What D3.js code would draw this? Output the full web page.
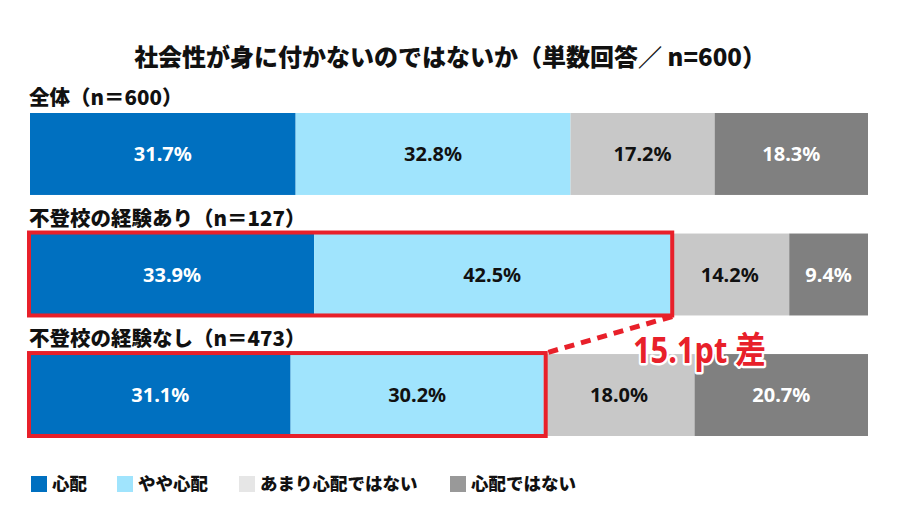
<!DOCTYPE html>
<html><head><meta charset="utf-8">
<script src="https://cdn.jsdelivr.net/npm/d3@7"></script>
<style>
body{margin:0;background:#fff;}
text{font-family:"Noto Sans CJK JP","Noto Sans",sans-serif;font-weight:900;}
.num{font-family:"Noto Sans","Noto Sans CJK JP",sans-serif;font-weight:700;}
</style></head>
<body>
<svg id="c" width="900" height="520"></svg>
<script>
const title = "社会性が身に付かないのではないか（単数回答／ n=600）";
const groups = ["全体（n＝600）", "不登校の経験あり（n＝127）", "不登校の経験なし（n＝473）"];
const seriesNames = ["心配", "やや心配", "あまり心配ではない", "心配ではない"];
const vShinpai = [31.7, 33.9, 31.1];
const vYaya = [32.8, 42.5, 30.2];
const vAmari = [17.2, 14.2, 18.0];
const vNai = [18.3, 9.4, 20.7];
const barColors = ["#0070c0", "#a0e4fd", "#c8c8c8", "#808080"];
const legendColors = ["#0070c0", "#a0e4fd", "#e6e6e6", "#999999"];
const labelColors = ["#ffffff", "#111111", "#111111", "#ffffff"];
const annotation = "15.1pt 差";

const series = [vShinpai, vYaya, vAmari, vNai];
const svg = d3.select("#c");
const x = d3.scaleLinear().domain([0, 100]).range([30, 868]);
const y = d3.scaleBand().domain(groups).range([113, 436]).paddingInner(0.32).paddingOuter(0);

svg.append("text").attr("x", 450).attr("y", 66).attr("text-anchor", "middle")
  .attr("font-size", 24).attr("fill", "#111").text(title);

groups.forEach((g, gi) => {
  svg.append("text").attr("x", 29).attr("y", y(g) - 8).attr("font-size", 20.5)
    .attr("fill", "#111").text(g);
  let cum = 0;
  series.forEach((s, si) => {
    const v = s[gi];
    const x0 = x(cum), x1 = x(cum + v);
    svg.append("rect").attr("x", x0).attr("y", y(g)).attr("width", x1 - x0)
      .attr("height", y.bandwidth()).attr("fill", barColors[si]);
    svg.append("text").attr("class", "num").attr("x", (x0 + x1) / 2)
      .attr("y", y(g) + y.bandwidth() / 2 + 7).attr("text-anchor", "middle")
      .attr("font-size", 20).attr("fill", labelColors[si]).text(v.toFixed(1) + "%");
    cum += v;
  });
});

// highlight boxes around 心配 + やや心配
const hl = [1, 2];
hl.forEach(gi => {
  const g = groups[gi];
  const w = x(vShinpai[gi] + vYaya[gi]);
  svg.append("rect").attr("x", x(0) - 1).attr("y", y(g) - 1)
    .attr("width", w - x(0) + 3).attr("height", y.bandwidth() + 1)
    .attr("fill", "none").attr("stroke", "#e8202a").attr("stroke-width", 4);
});
const xa = x(vShinpai[1] + vYaya[1]) + 2, ya = y(groups[1]) + y.bandwidth() + 1;
const xb = x(vShinpai[2] + vYaya[2]) + 2, yb = y(groups[2]) - 1;
svg.append("line").attr("x1", xa).attr("y1", ya).attr("x2", xb).attr("y2", yb)
  .attr("stroke", "#e8202a").attr("stroke-width", 5).attr("stroke-dasharray", "10,7");

svg.append("text").attr("class", "num").attr("x", 633).attr("y", 363)
  .attr("font-size", 36).attr("fill", "#e8202a").attr("stroke", "#fff")
  .attr("stroke-width", 5).attr("paint-order", "stroke").attr("stroke-linejoin", "round")
  .attr("textLength", 133).attr("lengthAdjust", "spacingAndGlyphs")
  .text(annotation);

// legend
const legX = [31, 117, 239, 450];
seriesNames.forEach((n, i) => {
  svg.append("rect").attr("x", legX[i]).attr("y", 476).attr("width", 16).attr("height", 16)
    .attr("fill", legendColors[i]);
  svg.append("text").attr("x", legX[i] + 21).attr("y", 490).attr("font-size", 17.5)
    .attr("fill", "#111").text(n);
});
</script>
</body></html>
